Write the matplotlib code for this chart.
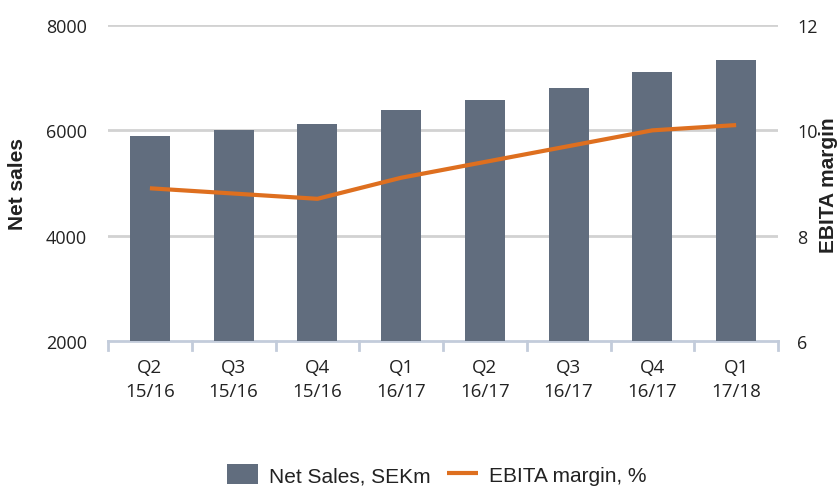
import numpy as np
import matplotlib.pyplot as plt

# datos
quarters = ['Q2', 'Q3', 'Q4', 'Q1', 'Q2', 'Q3', 'Q4', 'Q1']
years = ['15/16', '15/16', '15/16', '16/17', '16/17', '16/17', '16/17', '17/18']
net_sales = [5890, 6010, 6120, 6390, 6580, 6800, 7110, 7340]
ebita_margin = [8.9, 8.8, 8.7, 9.1, 9.4, 9.7, 10.0, 10.1]

bar_color = '#616d7e'
line_color = '#de6f1f'
grid_color = '#d2d2d2'
axis_color = '#c3ccdb'
text_color = '#222222'

fig = plt.figure(figsize=(8.4, 4.89), dpi=100)
ax = fig.add_axes([0.1286, 0.3006, 0.7976, 0.6462])
ax2 = ax.twinx()

x = np.arange(len(quarters))
ax.bar(x, net_sales, width=0.48, color=bar_color, zorder=3, label='Net Sales, SEKm')
ax.set_xlim(-0.5, len(quarters) - 0.5)
ax.set_ylim(2000, 8000)
ax.set_yticks([2000, 4000, 6000, 8000])
for v in [4000, 6000, 8000]:
    ax.axhline(v, color=grid_color, lw=2, zorder=1)

ax2.plot(x, ebita_margin, color=line_color, lw=3, zorder=4, label='EBITA margin, %',
         solid_capstyle='butt')
ax2.set_ylim(6, 12)
ax2.set_yticks([6, 8, 10, 12])

# ejes
for a in (ax, ax2):
    for s in a.spines.values():
        s.set_visible(False)
ax.spines['bottom'].set_visible(True)
ax.spines['bottom'].set_color(axis_color)
ax.spines['bottom'].set_linewidth(2)

ax.set_xticks(x)
ax.set_xticklabels([q + '\n' + y for q, y in zip(quarters, years)],
                   fontsize=13.5, color=text_color, family='Open Sans', linespacing=1.45)
ax.tick_params(axis='x', length=0, pad=12)
for b in np.arange(-0.5, len(quarters), 1.0):
    ax.plot([b, b], [0, -0.03], transform=ax.get_xaxis_transform(), color=axis_color,
            lw=2, clip_on=False)

ax.tick_params(axis='y', length=0, pad=15, labelsize=13, labelcolor=text_color)
ax2.tick_params(axis='y', length=0, pad=14, labelsize=13, labelcolor=text_color)
for lbl in ax.get_yticklabels() + ax2.get_yticklabels():
    lbl.set_family('Open Sans')

# titulos de ejes
fig.text(18 / 840, 1 - 184 / 489, 'Net sales', rotation=90, ha='center', va='center',
         fontsize=15, fontweight='bold', family='Liberation Sans', color=text_color)
fig.text(829 / 840, 1 - 185 / 489, 'EBITA margin', rotation=90, ha='center', va='center',
         fontsize=15, fontweight='bold', family='Liberation Sans', color=text_color)

h1, l1 = ax.get_legend_handles_labels()
h2, l2 = ax2.get_legend_handles_labels()
fig.legend(h1 + h2, l1 + l2, loc='center', bbox_to_anchor=(0.52, 0.027), ncol=2,
           frameon=False, prop={'family': 'Liberation Sans', 'size': 15},
           handlelength=1.5, handleheight=1.1, columnspacing=0.8, handletextpad=0.5,
           labelcolor=text_color, borderpad=0.2)

fig.savefig('out.png', dpi=100)
